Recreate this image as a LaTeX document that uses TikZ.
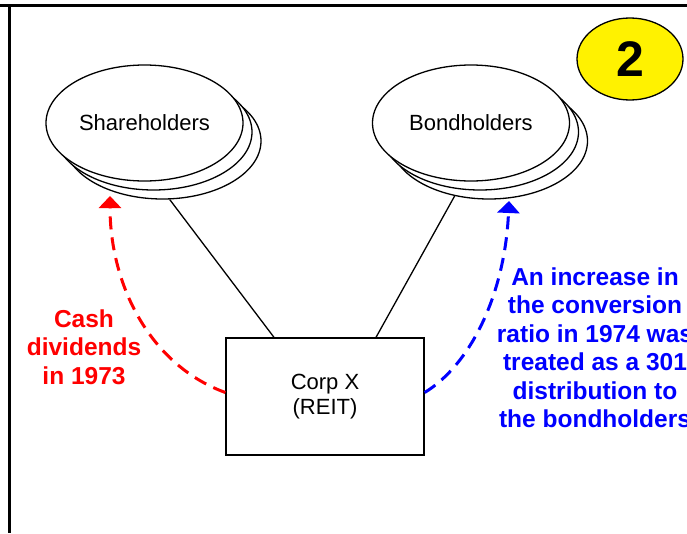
\documentclass[tikz,border=0pt]{standalone}
\usepackage{fontspec}
\setmainfont{Liberation Sans}
\usetikzlibrary{shapes.geometric,arrows.meta,calc}
\tikzset{
  holder/.style={ellipse,draw=black,line width=1.3pt,fill=white,minimum width=197pt,minimum height=116pt,inner sep=0pt,font=\fontsize{22}{26}\selectfont},
  corpbox/.style={rectangle,draw=black,line width=1.3pt,minimum width=198pt,minimum height=117pt,inner sep=0pt,align=center,font=\fontsize{22}{25}\selectfont},
  conn/.style={draw=black,line width=1.3pt},
  flow/.style={line width=3pt,dash pattern=on 13pt off 8pt,-{Triangle[length=12pt,width=22pt]}},
  note/.style={align=center,inner sep=0pt,font=\fontsize{24.5}{28.5}\selectfont\bfseries},
  frameline/.style={line width=3pt,draw=black}
}
\begin{document}
\begin{tikzpicture}[x=1pt,y=-1pt]
\useasboundingbox (0,0) rectangle (687,533);
\clip (0,0) rectangle (687,533);
\fill[white] (0,0) rectangle (687,533);
% frame
\draw[frameline] (0,5.5) -- (687,5.5);
\draw[frameline] (9.5,4) -- (9.5,533);
% shareholders stack
\node[holder] (sh3) at (162.5,141) {};
\node[holder] (sh2) at (153.5,132) {};
\node[holder] (sh1) at (144.5,123) {Shareholders};
% bondholders stack
\node[holder] (bh3) at (489,141) {};
\node[holder] (bh2) at (480,132) {};
\node[holder] (bh1) at (471,123) {Bondholders};
% badge
\node[ellipse,draw=black,line width=1.3pt,fill=yellow,minimum width=106pt,minimum height=82pt,inner sep=0pt,font=\fontsize{50}{50}\selectfont\bfseries] (badge) at (630,59) {2};
% corp
\node[corpbox] (corp) at (325,396.5) {Corp X\\(REIT)};
% connectors
\draw[conn] (sh3.-83) -- ($(corp.north)+(-51,0)$);
\draw[conn] (bh3.-122) -- ($(corp.north)+(51,0)$);
% flows
\coordinate (redtip) at (110,196);
\coordinate (bluetip) at (509,201);
\draw[flow,red] ($(corp.west)+(0,-4)$) .. controls (150,365) and (110,285) .. (redtip);
\draw[flow,blue] ($(corp.east)+(0,-4)$) .. controls (470,365) and (505,295) .. (bluetip);
% notes
\node[note,text=red] (cash) at (84,347) {Cash\\dividends\\in 1973};
\node[note,text=blue] (incr) at (595,347.5) {An increase in\\the conversion\\ratio in 1974 was\\treated as a 301\\distribution to\\the bondholders};
\end{tikzpicture}
\end{document}
